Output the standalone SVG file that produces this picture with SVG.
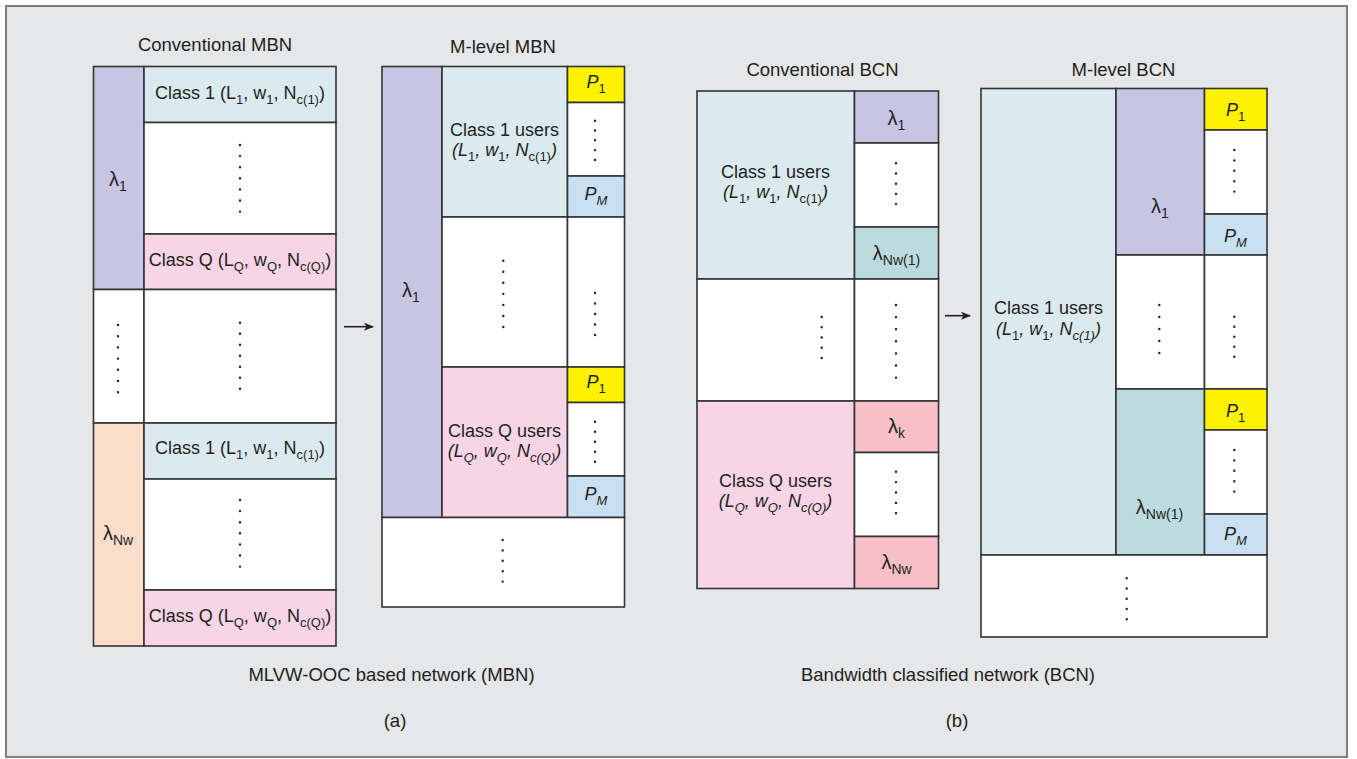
<svg xmlns="http://www.w3.org/2000/svg" width="1357" height="759" viewBox="0 0 1357 759">
<style>
text{font-family:"Liberation Sans",Arial,sans-serif;fill:#231f20;}
.t{font-size:18.5px;text-anchor:middle;}
.l{font-size:18px;text-anchor:middle;}
.g{font-size:20px;text-anchor:middle;}
.i{font-style:italic;}
.c{stroke:#333;stroke-width:1.6;}
.dots{stroke:#231f20;stroke-width:2.4;stroke-linecap:round;fill:none;}
.pu{fill:#c8c5e2;}.lb{fill:#dbeaee;}.pk{fill:#f8d5e5;}.pe{fill:#fcdcca;}.ye{fill:#fff200;}.bl{fill:#c9dff2;}.te{fill:#bcdbde;}.rd{fill:#f7c0c8;}.wh{fill:#ffffff;}
</style>
<defs>
<marker id="ah" markerWidth="10" markerHeight="8" refX="9" refY="4" orient="auto" markerUnits="userSpaceOnUse">
<path d="M0 0L10 4L0 8L2.5 4Z" fill="#231f20"/>
</marker>
</defs>
<rect x="6" y="6" width="1341" height="751" fill="#e6e7e9" stroke="#7f7f7f" stroke-width="2"/>

<!-- Conventional MBN -->
<g id="conv-mbn">
<text class="t" x="215" y="51">Conventional MBN</text>
<g id="cm-l1"><rect class="c pu" x="93.5" y="66.5" width="50.5" height="223"/><text class="g" x="118" y="186">λ<tspan dy="5" font-size="14">1</tspan></text></g>
<g id="cm-c1a"><rect class="c lb" x="144" y="66.5" width="192" height="56"/><text class="l" x="240" y="98.5">Class 1 (L<tspan dy="5" font-size="13">1</tspan><tspan dy="-5">, w</tspan><tspan dy="5" font-size="13">1</tspan><tspan dy="-5">, N</tspan><tspan dy="5" font-size="13">c(1)</tspan><tspan dy="-5">)</tspan></text></g>
<g id="cm-d1"><rect class="c wh" x="144" y="122.5" width="192" height="111.5"/><line class="dots" x1="240" y1="145" x2="240" y2="211.7" stroke-dasharray="0 11.1"/></g>
<g id="cm-cqa"><rect class="c pk" x="144" y="234" width="192" height="55.5"/><text class="l" x="240" y="266">Class Q (L<tspan dy="5" font-size="13">Q</tspan><tspan dy="-5">, w</tspan><tspan dy="5" font-size="13">Q</tspan><tspan dy="-5">, N</tspan><tspan dy="5" font-size="13">c(Q)</tspan><tspan dy="-5">)</tspan></text></g>
<g id="cm-d2"><rect class="c wh" x="93.5" y="289.5" width="50.5" height="133.5"/><line class="dots" x1="118" y1="325" x2="118" y2="392.3" stroke-dasharray="0 11.2"/></g>
<g id="cm-d3"><rect class="c wh" x="144" y="289.5" width="192" height="133.5"/><line class="dots" x1="240" y1="322.7" x2="240" y2="388.8" stroke-dasharray="0 11"/></g>
<g id="cm-lnw"><rect class="c pe" x="93.5" y="423" width="50.5" height="223"/><text class="g" x="118" y="540">λ<tspan dy="5" font-size="14">Nw</tspan></text></g>
<g id="cm-c1b"><rect class="c lb" x="144" y="423" width="192" height="56"/><text class="l" x="240" y="454">Class 1 (L<tspan dy="5" font-size="13">1</tspan><tspan dy="-5">, w</tspan><tspan dy="5" font-size="13">1</tspan><tspan dy="-5">, N</tspan><tspan dy="5" font-size="13">c(1)</tspan><tspan dy="-5">)</tspan></text></g>
<g id="cm-d4"><rect class="c wh" x="144" y="479" width="192" height="111"/><line class="dots" x1="240" y1="500" x2="240" y2="566.7" stroke-dasharray="0 11.1"/></g>
<g id="cm-cqb"><rect class="c pk" x="144" y="590" width="192" height="56"/><text class="l" x="240" y="622">Class Q (L<tspan dy="5" font-size="13">Q</tspan><tspan dy="-5">, w</tspan><tspan dy="5" font-size="13">Q</tspan><tspan dy="-5">, N</tspan><tspan dy="5" font-size="13">c(Q)</tspan><tspan dy="-5">)</tspan></text></g>
</g>

<!-- M-level MBN -->
<g id="mlevel-mbn">
<text class="t" x="503" y="53">M-level MBN</text>
<g id="mm-l1"><rect class="c pu" x="382" y="66.5" width="60" height="451"/><text class="g" x="411" y="297">λ<tspan dy="5" font-size="14">1</tspan></text></g>
<g id="mm-c1"><rect class="c lb" x="442" y="66.5" width="125.5" height="150.5"/><text class="l" x="504.5" y="136">Class 1 users</text><text class="l i" x="504.5" y="156">(L<tspan dy="5" font-size="13" font-style="normal">1</tspan><tspan dy="-5">, w</tspan><tspan dy="5" font-size="13" font-style="normal">1</tspan><tspan dy="-5">, N</tspan><tspan dy="5" font-size="13" font-style="normal">c(1)</tspan><tspan dy="-5">)</tspan></text></g>
<g id="mm-p1a"><rect class="c ye" x="567.5" y="66.5" width="57" height="36"/><text class="l i" x="596" y="88">P<tspan dy="5" font-size="13" font-style="normal">1</tspan></text></g>
<g id="mm-pda"><rect class="c wh" x="567.5" y="102.5" width="57" height="73.5"/><line class="dots" x1="595" y1="120.7" x2="595" y2="160.1" stroke-dasharray="0 9.8"/></g>
<g id="mm-pma"><rect class="c bl" x="567.5" y="176" width="57" height="41"/><text class="l i" x="596" y="200">P<tspan dy="5" font-size="13">M</tspan></text></g>
<g id="mm-mid1"><rect class="c wh" x="442" y="217" width="125.5" height="150"/><line class="dots" x1="503.3" y1="260.7" x2="503.3" y2="327.1" stroke-dasharray="0 11.05"/></g>
<g id="mm-mid2"><rect class="c wh" x="567.5" y="217" width="57" height="150"/><line class="dots" x1="595" y1="293" x2="595" y2="335.1" stroke-dasharray="0 10.5"/></g>
<g id="mm-cq"><rect class="c pk" x="442" y="367" width="125.5" height="150.5"/><text class="l" x="504.5" y="437">Class Q users</text><text class="l i" x="504.5" y="457">(L<tspan dy="5" font-size="13">Q</tspan><tspan dy="-5">, w</tspan><tspan dy="5" font-size="13">Q</tspan><tspan dy="-5">, N</tspan><tspan dy="5" font-size="13">c(Q)</tspan><tspan dy="-5">)</tspan></text></g>
<g id="mm-p1b"><rect class="c ye" x="567.5" y="367" width="57" height="35.5"/><text class="l i" x="596" y="388">P<tspan dy="5" font-size="13" font-style="normal">1</tspan></text></g>
<g id="mm-pdb"><rect class="c wh" x="567.5" y="402.5" width="57" height="73.5"/><line class="dots" x1="595" y1="421.7" x2="595" y2="461.8" stroke-dasharray="0 10"/></g>
<g id="mm-pmb"><rect class="c bl" x="567.5" y="476" width="57" height="41.5"/><text class="l i" x="596" y="500">P<tspan dy="5" font-size="13">M</tspan></text></g>
<g id="mm-bot"><rect class="c wh" x="382" y="517.5" width="242.5" height="89.5"/><line class="dots" x1="502.7" y1="540" x2="502.7" y2="581.7" stroke-dasharray="0 10.4"/></g>
</g>

<!-- Conventional BCN -->
<g id="conv-bcn">
<text class="t" x="822.5" y="76">Conventional BCN</text>
<g id="cb-c1"><rect class="c lb" x="697" y="91" width="157.5" height="188"/><text class="l" x="775.5" y="178">Class 1 users</text><text class="l i" x="775.5" y="198">(L<tspan dy="5" font-size="13" font-style="normal">1</tspan><tspan dy="-5">, w</tspan><tspan dy="5" font-size="13" font-style="normal">1</tspan><tspan dy="-5">, N</tspan><tspan dy="5" font-size="13" font-style="normal">c(1)</tspan><tspan dy="-5">)</tspan></text></g>
<g id="cb-l1"><rect class="c pu" x="854.5" y="91" width="84" height="52"/><text class="g" x="896.5" y="125">λ<tspan dy="5" font-size="14">1</tspan></text></g>
<g id="cb-d1"><rect class="c wh" x="854.5" y="143" width="84" height="84"/><line class="dots" x1="896" y1="163.3" x2="896" y2="204.2" stroke-dasharray="0 10.2"/></g>
<g id="cb-lnw1"><rect class="c te" x="854.5" y="227" width="84" height="52"/><text class="g" x="896.5" y="260">λ<tspan dy="5" font-size="14">Nw(1)</tspan></text></g>
<g id="cb-mid1"><rect class="c wh" x="697" y="279" width="157.5" height="122"/><line class="dots" x1="821.7" y1="317" x2="821.7" y2="358.1" stroke-dasharray="0 10.25"/></g>
<g id="cb-mid2"><rect class="c wh" x="854.5" y="279" width="84" height="122"/><line class="dots" x1="896" y1="305" x2="896" y2="377.7" stroke-dasharray="0 12.1"/></g>
<g id="cb-cq"><rect class="c pk" x="697" y="401" width="157.5" height="187.5"/><text class="l" x="775.5" y="487">Class Q users</text><text class="l i" x="775.5" y="507">(L<tspan dy="5" font-size="13">Q</tspan><tspan dy="-5">, w</tspan><tspan dy="5" font-size="13">Q</tspan><tspan dy="-5">, N</tspan><tspan dy="5" font-size="13">c(Q)</tspan><tspan dy="-5">)</tspan></text></g>
<g id="cb-lk"><rect class="c rd" x="854.5" y="401" width="84" height="51.5"/><text class="g" x="896.5" y="433">λ<tspan dy="5" font-size="14">k</tspan></text></g>
<g id="cb-d2"><rect class="c wh" x="854.5" y="452.5" width="84" height="84"/><line class="dots" x1="896" y1="471.7" x2="896" y2="513.4" stroke-dasharray="0 10.4"/></g>
<g id="cb-lnw"><rect class="c rd" x="854.5" y="536.5" width="84" height="52"/><text class="g" x="896.5" y="569">λ<tspan dy="5" font-size="14">Nw</tspan></text></g>
</g>

<!-- M-level BCN -->
<g id="mlevel-bcn">
<text class="t" x="1123.5" y="76">M-level BCN</text>
<g id="mb-c1"><rect class="c lb" x="981" y="88.5" width="135" height="466.5"/><text class="l" x="1048.5" y="314">Class 1 users</text><text class="l i" x="1048.5" y="335">(L<tspan dy="5" font-size="13" font-style="normal">1</tspan><tspan dy="-5">, w</tspan><tspan dy="5" font-size="13" font-style="normal">1</tspan><tspan dy="-5">, N</tspan><tspan dy="5" font-size="13">c(1)</tspan><tspan dy="-5">)</tspan></text></g>
<g id="mb-l1"><rect class="c pu" x="1116" y="88.5" width="88.5" height="166.5"/><text class="g" x="1160" y="213">λ<tspan dy="5" font-size="14">1</tspan></text></g>
<g id="mb-p1a"><rect class="c ye" x="1204.5" y="88.5" width="62.5" height="41.5"/><text class="l i" x="1235.5" y="116">P<tspan dy="5" font-size="13" font-style="normal">1</tspan></text></g>
<g id="mb-pda"><rect class="c wh" x="1204.5" y="130" width="62.5" height="84"/><line class="dots" x1="1234.3" y1="150" x2="1234.3" y2="191.7" stroke-dasharray="0 10.4"/></g>
<g id="mb-pma"><rect class="c bl" x="1204.5" y="214" width="62.5" height="41"/><text class="l i" x="1235.5" y="242">P<tspan dy="5" font-size="13">M</tspan></text></g>
<g id="mb-mid1"><rect class="c wh" x="1116" y="255" width="88.5" height="134"/><line class="dots" x1="1159.3" y1="305" x2="1159.3" y2="353.1" stroke-dasharray="0 12"/></g>
<g id="mb-mid2"><rect class="c wh" x="1204.5" y="255" width="62.5" height="134"/><line class="dots" x1="1234.3" y1="316.7" x2="1234.3" y2="356.8" stroke-dasharray="0 10"/></g>
<g id="mb-lnw1"><rect class="c te" x="1116" y="389" width="88.5" height="166"/><text class="g" x="1159.5" y="514">λ<tspan dy="5" font-size="14">Nw(1)</tspan></text></g>
<g id="mb-p1b"><rect class="c ye" x="1204.5" y="389" width="62.5" height="41"/><text class="l i" x="1235.5" y="417">P<tspan dy="5" font-size="13" font-style="normal">1</tspan></text></g>
<g id="mb-pdb"><rect class="c wh" x="1204.5" y="430" width="62.5" height="84"/><line class="dots" x1="1234.3" y1="450" x2="1234.3" y2="491.7" stroke-dasharray="0 10.4"/></g>
<g id="mb-pmb"><rect class="c bl" x="1204.5" y="514" width="62.5" height="41"/><text class="l i" x="1235.5" y="540">P<tspan dy="5" font-size="13">M</tspan></text></g>
<g id="mb-bot"><rect class="c wh" x="981" y="555" width="286" height="82"/><line class="dots" x1="1126.7" y1="578.3" x2="1126.7" y2="619.4" stroke-dasharray="0 10.25"/></g>
</g>

<g id="connectors">
<line x1="344" y1="326.7" x2="373" y2="326.7" stroke="#231f20" stroke-width="1.6" marker-end="url(#ah)"/>
<line x1="945" y1="315.7" x2="970" y2="315.7" stroke="#231f20" stroke-width="1.6" marker-end="url(#ah)"/>
</g>

<g id="captions">
<text class="t" x="391.5" y="681">MLVW-OOC based network (MBN)</text>
<text class="t" x="948" y="681">Bandwidth classified network (BCN)</text>
<text class="t" x="395" y="727">(a)</text>
<text class="t" x="957" y="727">(b)</text>
</g>
</svg>
